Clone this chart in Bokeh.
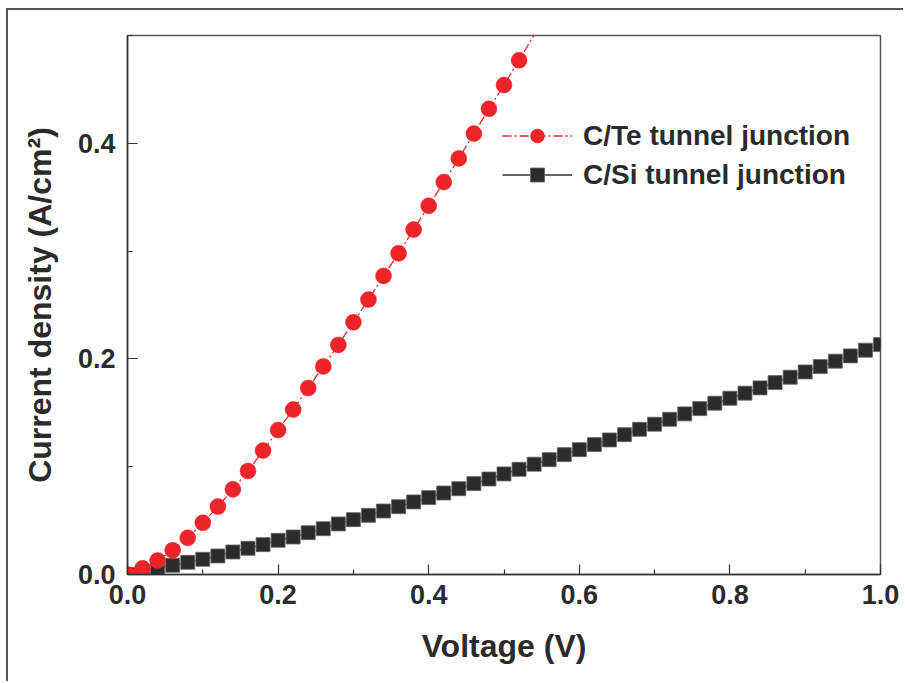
from bokeh.plotting import figure
from bokeh.models import FixedTicker, PrintfTickFormatter, Legend, LegendItem, ColumnDataSource
from bokeh.embed import file_html
from bokeh.resources import INLINE

# ---- data ----
voltage_te = [0.00, 0.02, 0.04, 0.06, 0.08, 0.10, 0.12, 0.14, 0.16, 0.18,
              0.20, 0.22, 0.24, 0.26, 0.28, 0.30, 0.32, 0.34, 0.36, 0.38,
              0.40, 0.42, 0.44, 0.46, 0.48, 0.50, 0.52, 0.54, 0.56]
current_te = [0.000, 0.0057, 0.013, 0.0225, 0.034, 0.048, 0.063, 0.079, 0.096, 0.115,
              0.134, 0.153, 0.173, 0.193, 0.213, 0.234, 0.255, 0.277, 0.298, 0.320,
              0.342, 0.364, 0.386, 0.409, 0.432, 0.454, 0.477, 0.5005, 0.523]

voltage_si = [0.00, 0.02, 0.04, 0.06, 0.08, 0.10, 0.12, 0.14, 0.16, 0.18,
              0.20, 0.22, 0.24, 0.26, 0.28, 0.30, 0.32, 0.34, 0.36, 0.38,
              0.40, 0.42, 0.44, 0.46, 0.48, 0.50, 0.52, 0.54, 0.56, 0.58,
              0.60, 0.62, 0.64, 0.66, 0.68, 0.70, 0.72, 0.74, 0.76, 0.78,
              0.80, 0.82, 0.84, 0.86, 0.88, 0.90, 0.92, 0.94, 0.96, 0.98, 1.00]
current_si = [0.0, 0.0026, 0.0057, 0.0085, 0.0113, 0.0141, 0.0172, 0.0209, 0.0243, 0.0277,
              0.0317, 0.0348, 0.0388, 0.0425, 0.0469, 0.0509, 0.0549, 0.0589, 0.0629, 0.0673,
              0.0713, 0.0756, 0.0796, 0.0843, 0.0886, 0.0933, 0.0976, 0.1023, 0.1065, 0.1112,
              0.1158, 0.1205, 0.1248, 0.1297, 0.1347, 0.1394, 0.1440, 0.1490, 0.1539, 0.1589,
              0.1635, 0.1682, 0.1731, 0.1780, 0.1830, 0.1879, 0.1929, 0.1979, 0.2028, 0.2081, 0.2133]

x_major = [0.0, 0.2, 0.4, 0.6, 0.8, 1.0]
x_minor = [0.1, 0.3, 0.5, 0.7, 0.9]
y_major = [0.0, 0.2, 0.4]
y_minor = [0.1, 0.3, 0.5]

series_te = "C/Te tunnel junction"
series_si = "C/Si tunnel junction"
x_title = "Voltage (V)"
y_title = "Current density (A/cm\u00b2)"

X_MAX = 1.0
Y_MAX = 0.5

RED = "#ee242b"
DARK = "#2b2b2b"
FONT = "Liberation Sans"

p = figure(width=897, height=673, output_backend="svg", toolbar_location=None,
           x_range=(0, X_MAX), y_range=(0, Y_MAX),
           min_border_left=119, min_border_right=25, min_border_top=25, min_border_bottom=109)
p.styles = {"border-left": "2px solid #555", "border-top": "2px solid #555",
            "margin-left": "6px", "margin-top": "8px"}

p.background_fill_color = "white"
p.border_fill_color = "white"
p.outline_line_color = "#555555"
p.outline_line_width = 1.5
p.xgrid.visible = False
p.ygrid.visible = False

for ax, major, minor in ((p.xaxis[0], x_major, x_minor), (p.yaxis[0], y_major, y_minor)):
    ax.ticker = FixedTicker(ticks=major, minor_ticks=minor)
    ax.formatter = PrintfTickFormatter(format="%.1f")
    ax.major_tick_in = 10
    ax.major_tick_out = 0
    ax.minor_tick_in = 5
    ax.minor_tick_out = 0
    ax.axis_line_color = "#333333"
    ax.axis_line_width = 1.5
    ax.major_tick_line_color = "#333333"
    ax.minor_tick_line_color = "#333333"
    ax.major_tick_line_width = 1.2
    ax.minor_tick_line_width = 1.2
    ax.major_label_text_font = FONT
    ax.major_label_text_font_style = "bold"
    ax.major_label_text_font_size = "27px"
    ax.major_label_text_color = DARK
    ax.axis_label_text_font = FONT
    ax.axis_label_text_font_style = "bold"
    ax.axis_label_text_font_size = "32px"
    ax.axis_label_text_color = DARK

p.xaxis.axis_label = x_title
p.yaxis.axis_label = y_title
p.xaxis.major_label_standoff = 10
p.yaxis.major_label_standoff = 12
p.xaxis.axis_label_standoff = 21
p.yaxis.axis_label_standoff = 17

src_si = ColumnDataSource(data=dict(x=voltage_si, y=current_si))
vis_te = [(v, c) for v, c in zip(voltage_te, current_te) if c <= Y_MAX]
src_te_line = ColumnDataSource(data=dict(x=voltage_te, y=current_te))
src_te_pts = ColumnDataSource(data=dict(x=[v for v, _ in vis_te], y=[c for _, c in vis_te]))

l_si = p.line("x", "y", source=src_si, line_color="#333333", line_width=1.5)
m_si = p.scatter("x", "y", source=src_si, marker="square", size=14,
                 fill_color=DARK, line_color="#666666", line_width=0.8)
l_te = p.line("x", "y", source=src_te_line, line_color=RED, line_width=1.3, line_dash="9 3 2 3")
m_te = p.scatter("x", "y", source=src_te_pts, marker="circle", size=16,
                 fill_color=RED, line_color=RED, line_width=0.5)

legend = Legend(items=[LegendItem(label=series_te, renderers=[l_te, m_te]),
                       LegendItem(label=series_si, renderers=[l_si, m_si])],
                location=(375, 382), border_line_color=None, background_fill_alpha=0,
                glyph_width=70, glyph_height=35, spacing=4, padding=0, margin=0,
                label_standoff=11, label_text_font=FONT, label_text_font_style="bold",
                label_text_font_size="28px", label_text_color=DARK)
p.add_layout(legend, "center")

open("out.html", "w").write(file_html(p, INLINE))
